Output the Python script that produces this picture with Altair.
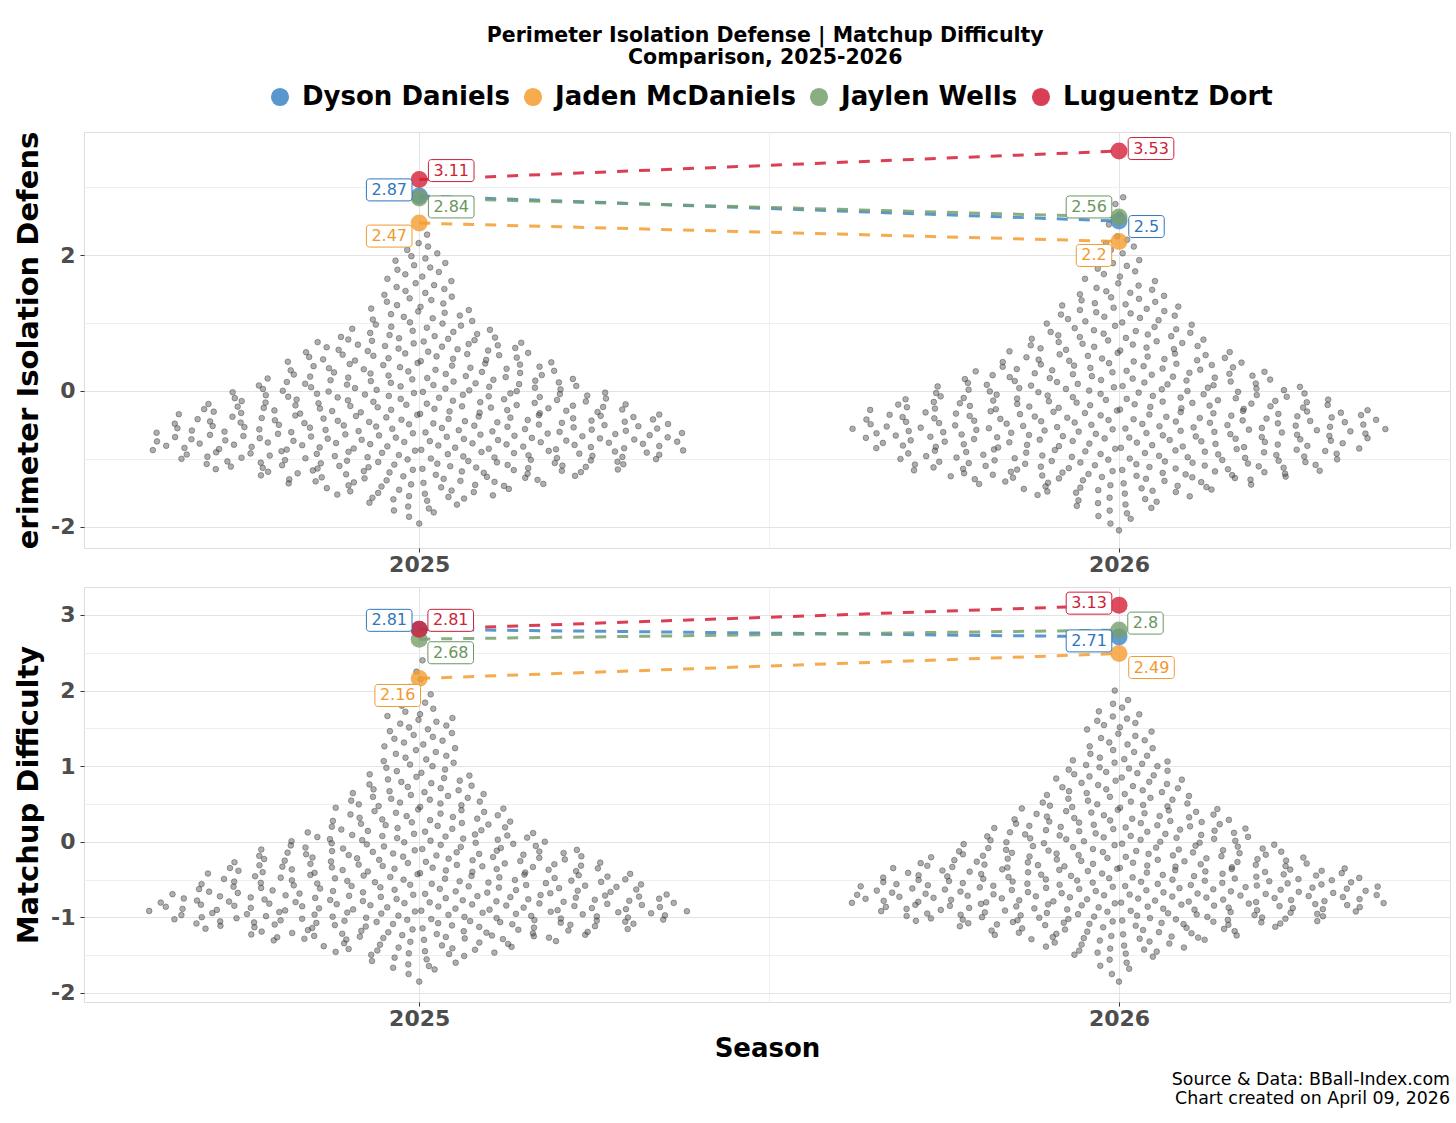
import altair as alt
import numpy as np
import pandas as pd

# ---------------- data ----------------
players = ["Dyson Daniels", "Jaden McDaniels", "Jaylen Wells", "Luguentz Dort"]
seasons = [2025, 2026]
perim_2025 = [2.87, 2.47, 2.84, 3.11]
perim_2026 = [2.5, 2.2, 2.56, 3.53]
match_2025 = [2.81, 2.16, 2.68, 2.81]
match_2026 = [2.71, 2.49, 2.8, 3.13]

# league distribution (all players): counts per 0.2-wide bin, from the given lower edge
perim_2025_start = -2.0
perim_2025_counts = [2, 7, 17, 27, 42, 50, 50, 48, 43, 37, 31, 26, 23, 21, 13, 10, 8, 7, 6, 6, 4, 1]
perim_2026_start = -2.1
perim_2026_counts = [2, 5, 10, 22, 37, 39, 42, 48, 46, 41, 33, 28, 23, 18, 16, 12, 12, 9, 6, 5, 4, 4, 2, 1, 2]
match_2025_start = -1.9
match_2025_counts = [2, 9, 21, 42, 58, 58, 48, 44, 38, 29, 21, 18, 16, 12, 9, 8, 8, 8, 5, 2, 2, 1]
match_2026_start = -1.9
match_2026_counts = [2, 5, 15, 28, 50, 60, 57, 51, 41, 31, 28, 22, 16, 14, 13, 8, 7, 7, 4, 1]

# ---------------- styles / layout ----------------
player_colors = ["#3d85c6", "#f39c2f", "#779f6c", "#d41f37"]
text_colors = ["#2f77bd", "#ef9a30", "#6a9660", "#cc1f38"]
# label nudges (pixels, dx, dy) per player, like a label-repel result
perim_nudge_2025 = [(-30, -6), (-30, 13), (32, 9), (32, -9)]
perim_nudge_2026 = [(27.5, 5.5), (-25, 14), (-30, -10), (32, -2.5)]
match_nudge_2025 = [(-30, -9), (-21.5, 17), (31.5, 13.6), (31.5, -9)]
match_nudge_2026 = [(-30, 4), (32.5, 14), (26.5, -7), (-30, -2)]

FONT = "DejaVu Sans"
W = 1366
X_DOMAIN = [2024.521, 2026.473]
PX_X = W / (X_DOMAIN[1] - X_DOMAIN[0])
LABEL_FS = 16
BOX_H = 22


def vdc(n, base=2):
    v, denom = 0.0, 1.0
    while n:
        denom *= base
        n, rem = divmod(n, base)
        v += rem / denom
    return v


def swarm(start, counts, season, width=0.39, bw=0.12):
    ys = []
    for i, c in enumerate(counts):
        lo = start + 0.2 * i
        ys += [lo + 0.2 * (k + 0.5) / c for k in range(c)]
    ys = np.sort(np.array(ys))
    dens = np.exp(-0.5 * ((ys[:, None] - ys[None, :]) / bw) ** 2).sum(axis=1)
    dens = dens / dens.max()
    u = np.array([vdc(i + 1) for i in range(len(ys))])
    xs = season + (2 * u - 1) * width * dens
    return pd.DataFrame({"season": xs, "value": ys})


def text_w(s):
    return sum(0.318 if ch == "." else 0.636 for ch in s) * LABEL_FS + 10


def panel(v25, v26, n25, n26, s25, c25, s26, c26, ydom, height, ytitle,
          yvalues, major_test, x_title):
    ppu = height / (ydom[1] - ydom[0])
    league = pd.concat([swarm(s25, c25, 2025), swarm(s26, c26, 2026)])
    rows = []
    for season, vals, nud in [(2025, v25, n25), (2026, v26, n26)]:
        for p, v, (dx, dy), pc, tc in zip(players, vals, nud, player_colors, text_colors):
            lab = f"{v:g}"
            w = text_w(lab)
            cx = season + dx / PX_X
            cy = v - dy / ppu
            rows.append(dict(player=p, season=season, value=v, label=lab,
                             lx=cx, ly=cy,
                             bx1=cx - w / 2 / PX_X, bx2=cx + w / 2 / PX_X,
                             by1=cy - BOX_H / 2 / ppu, by2=cy + BOX_H / 2 / ppu,
                             pcol=pc, tcol=tc))
    pdf = pd.DataFrame(rows)

    xaxis = alt.Axis(
        values=[2025, 2025.5, 2026],
        labelExpr="datum.value == 2025.5 ? '' : '' + datum.value",
        title=x_title, titleFontSize=26, titleFontWeight="bold", titleColor="black",
        titleFont=FONT, titlePadding=6,
        labelFont=FONT, labelFontSize=22, labelFontWeight="bold", labelColor="#4d4d4d",
        labelPadding=2, tickSize=4, tickColor="#333333", domain=False,
        gridColor={"condition": {"test": "datum.value == 2025.5", "value": "#f0f0f0"}, "value": "#e3e3e3"},
        tickOpacity={"condition": {"test": "datum.value == 2025.5", "value": 0}, "value": 1},
    )
    yaxis = alt.Axis(
        values=yvalues,
        labelExpr=f"{major_test} ? (datum.value < 0 ? '-' : '') + abs(datum.value) : ''",
        title=ytitle, titleFontSize=29, titleFontWeight="bold", titleColor="black",
        titleFont=FONT, titlePadding=7,
        labelFont=FONT, labelFontSize=22, labelFontWeight="bold", labelColor="#4d4d4d",
        labelPadding=5, tickSize=4, tickColor="#333333", domain=False,
        gridColor={"condition": {"test": major_test, "value": "#e3e3e3"}, "value": "#efefef"},
        tickOpacity={"condition": {"test": major_test, "value": 1}, "value": 0},
    )
    xs = alt.Scale(domain=X_DOMAIN, nice=False, zero=False)
    ys = alt.Scale(domain=ydom, nice=False, zero=False)

    base_l = alt.Chart(league)
    pts = base_l.mark_circle(size=32, fill="#404040", fillOpacity=0.42, stroke="#404040",
                             strokeOpacity=0.45, strokeWidth=1).encode(
        x=alt.X("season:Q", scale=xs, axis=xaxis),
        y=alt.Y("value:Q", scale=ys, axis=yaxis),
    )
    bp = alt.Chart(pdf)
    lines = bp.mark_line(strokeDash=[11, 11], strokeWidth=3, opacity=0.85).encode(
        x=alt.X("season:Q", scale=xs),
        y=alt.Y("value:Q", scale=ys),
        color=alt.Color("pcol:N", scale=None),
        detail="player:N",
    )
    ppts = bp.mark_circle(size=290, opacity=0.8).encode(
        x=alt.X("season:Q", scale=xs),
        y=alt.Y("value:Q", scale=ys),
        color=alt.Color("player:N", scale=alt.Scale(domain=players, range=player_colors),
                        legend=alt.Legend(orient="none", legendX=183, legendY=-48,
                                          direction="horizontal", title=None,
                                          labelFont=FONT, labelFontSize=26,
                                          labelFontWeight="bold", labelColor="black",
                                          labelLimit=500,
                                          symbolType="circle", symbolSize=330,
                                          symbolOpacity=0.8, symbolStrokeWidth=0,
                                          labelOffset=9, columnPadding=10)),
    )
    boxes = bp.mark_rect(fill="white", strokeWidth=1, cornerRadius=3).encode(
        x="bx1:Q", x2="bx2:Q", y="by1:Q", y2="by2:Q",
        stroke=alt.Color("tcol:N", scale=None),
    )
    texts = bp.mark_text(font=FONT, fontSize=LABEL_FS, align="center", baseline="middle").encode(
        x="lx:Q", y="ly:Q", text="label:N",
        color=alt.Color("tcol:N", scale=None),
    )
    return alt.layer(pts, lines, ppts, boxes, texts).properties(width=W, height=height)


top = panel(perim_2025, perim_2026, perim_nudge_2025, perim_nudge_2026,
            perim_2025_start, perim_2025_counts, perim_2026_start, perim_2026_counts,
            [-2.31, 3.81], 416, "erimeter Isolation Defens", [-2, -1, 0, 1, 2, 3],
            "datum.value % 2 == 0", None)
bottom = panel(match_2025, match_2026, match_nudge_2025, match_nudge_2026,
               match_2025_start, match_2025_counts, match_2026_start, match_2026_counts,
               [-2.12, 3.37], 415, "Matchup Difficulty",
               [-2, -1.5, -1, -0.5, 0, 0.5, 1, 1.5, 2, 2.5, 3],
               "datum.value % 1 == 0", "Season").properties(
    title=alt.TitleParams(text=["Source & Data: BBall-Index.com", "Chart created on April 09, 2026"],
                          orient="bottom", anchor="end", frame="group", font=FONT,
                          fontSize=17.4, fontWeight="normal", color="black", offset=10,
                          lineHeight=19)
)

chart = alt.vconcat(top, bottom, spacing=10).properties(
    title=alt.TitleParams(text=["Perimeter Isolation Defense | Matchup Difficulty", "Comparison, 2025-2026"],
                          font=FONT, fontSize=20.5, fontWeight="bold", color="black",
                          anchor="middle", offset=16, lineHeight=22, dx=33),
    padding={"left": 14, "top": 25, "right": 5, "bottom": 15},
).configure_view(stroke="#333333", strokeWidth=1).configure(font=FONT)

chart.save("out.html", embed_options={"renderer": "svg", "actions": False})
